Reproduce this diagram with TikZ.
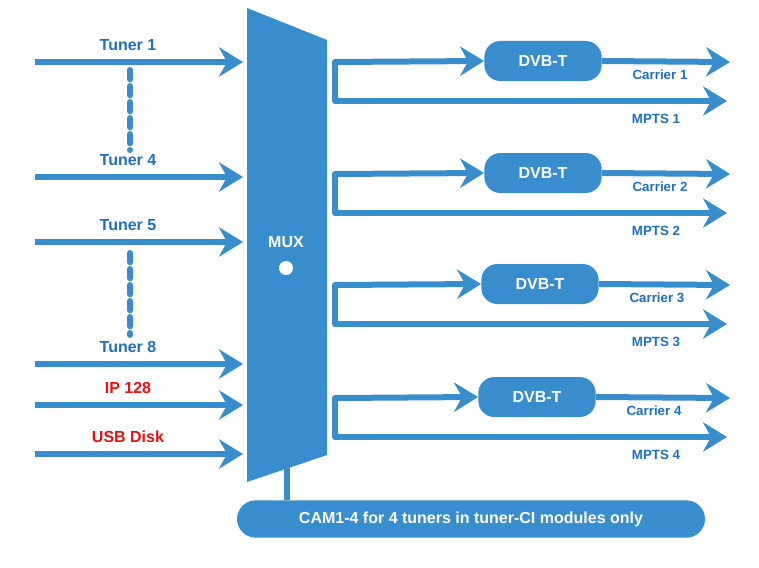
\documentclass[tikz,border=0pt]{standalone}
\usepackage{fontspec}
\setmainfont{Liberation Sans}
\usetikzlibrary{arrows.meta,positioning}
\definecolor{muxBlue}{RGB}{56,141,204}
\definecolor{txtBlue}{RGB}{28,112,188}
\definecolor{txtRed}{RGB}{232,16,16}
\tikzset{
  sig/.style={draw=muxBlue,line width=4.5pt,-{Stealth[length=18pt,width=22pt,inset=6pt]}},
  link/.style={draw=muxBlue,line width=4.5pt,line join=round,line cap=round},
  dvb/.style={fill=muxBlue,rounded corners=12pt,minimum width=88pt,minimum height=30pt,text=white,font=\bfseries\large},
  lbl/.style={text=txtBlue,font=\bfseries},
}
\begin{document}
\begin{tikzpicture}[x=0.75pt,y=-0.75pt]
\path[use as bounding box] (0,0) rectangle (759,567);
% multiplexer
\fill[muxBlue] (247,8) -- (327,40) -- (327,455) -- (247,482) -- cycle;
\node[text=white,font=\bfseries\large] (mux) at (286,242) {MUX};
\fill[white] (286,268) circle (7);
% inputs
\foreach \y/\t/\c/\n in {62/Tuner 1/txtBlue/a,177/Tuner 4/txtBlue/b,242/Tuner 5/txtBlue/c,364/Tuner 8/txtBlue/d,405/IP 128/txtRed/e,454/USB Disk/txtRed/f}{
  \coordinate (in\n) at (35,\y);
  \coordinate (mx\n) at (243,\y);
  \draw[sig] (in\n) -- (mx\n);
  \node[text=\c,font=\bfseries\large] (t\n) at (128,\y-17) {\t};
}
\draw[link,dash pattern=on 7pt off 5pt] (130,70) -- (130,150);
\draw[link,dash pattern=on 7pt off 5pt] (130,253) -- (130,335);
% outputs
\foreach \i/\y/\x in {1/62/543,2/174/543,3/285/540,4/398/537}{
  \node[dvb] (dvb\i) at (\x,\y-1) {DVB-T};
  \coordinate (sp\i) at (335,\y);
  \coordinate (sq\i) at (335,\y+39);
  \coordinate (car\i) at (730,\y);
  \coordinate (mp\i) at (727,\y+39);
  \draw[link] (sp\i) -- (sq\i);
  \draw[sig] (sp\i) -- (dvb\i.west);
  \draw[sig] (dvb\i.east) -- (car\i);
  \draw[sig] (sq\i) -- (mp\i);
  \node[lbl] (lc\i) at (\x+117,\y+13) {Carrier \i};
  \node[lbl] (lm\i) at (656,\y+57) {MPTS \i};
}
% note
\node[fill=muxBlue,rounded corners=14pt,minimum width=351pt,minimum height=28pt,text=white,font=\bfseries\large] (note) at (471,519) {CAM1-4 for 4 tuners in tuner-CI modules only};
\coordinate (mb) at (287,460);
\draw[link,line cap=butt] (mb) -- (note.north -| mb);
\end{tikzpicture}
\end{document}
